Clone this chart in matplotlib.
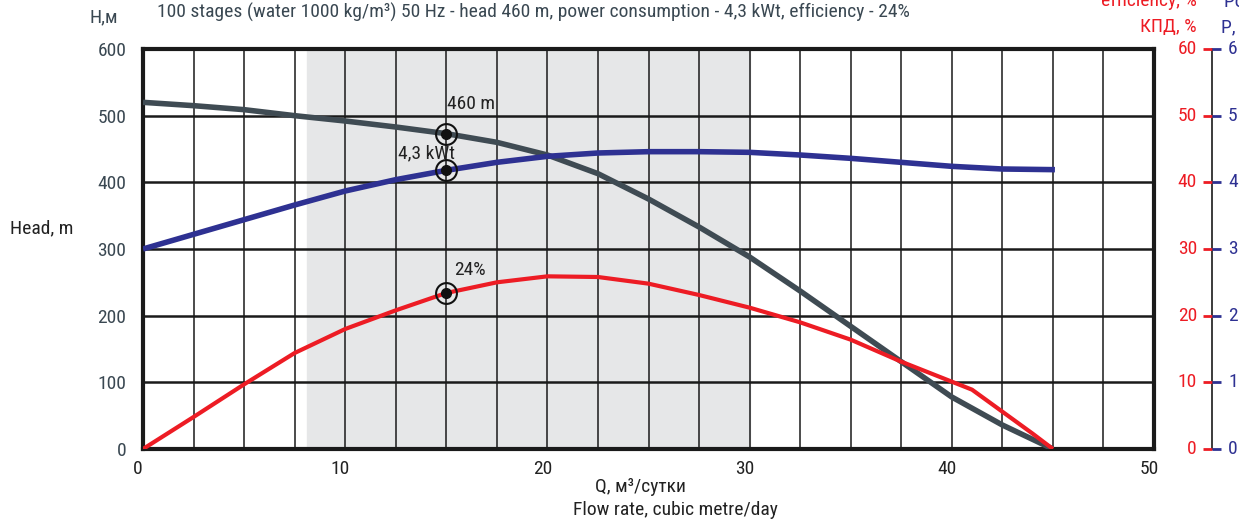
import matplotlib
matplotlib.use("Agg")
import matplotlib.pyplot as plt
from matplotlib import font_manager as fm
from matplotlib.transforms import ScaledTranslation

names = {f.name for f in fm.fontManager.ttflist}
fam = [n for n in ["Liberation Sans Narrow", "Roboto Condensed", "Roboto", "DejaVu Sans"] if n in names]
plt.rcParams['font.family'] = fam

# ---------------- data ----------------
flow = [0, 2.5, 5, 7.5, 10, 12.5, 15, 17.5, 20, 22.5, 25, 27.5, 30, 32.5, 35, 37.5, 40, 42.5, 45]
head = [520, 515, 509, 500, 492, 483, 473, 460, 441, 413, 375, 333, 288, 237, 184, 131, 78, 36, 0]

flow_p = [0, 2.5, 5, 7.5, 10, 12.5, 15, 17.5, 20, 22.5, 25, 27.5, 30, 32.5, 35, 37.5, 40, 42.5, 45.1]
power = [3.00, 3.22, 3.44, 3.66, 3.87, 4.04, 4.18, 4.30, 4.39, 4.44, 4.46, 4.46, 4.45, 4.41, 4.36, 4.30, 4.24, 4.20, 4.19]

flow_e = [0, 2.5, 5, 7.5, 10, 12.5, 15, 17.5, 20, 22.5, 25, 27.5, 30, 32.5, 35, 37.5, 40, 41, 42.5, 44, 45]
eff = [0, 4.8, 9.7, 14.4, 18.0, 20.8, 23.4, 25.0, 25.9, 25.8, 24.8, 23.1, 21.2, 19.0, 16.4, 13.1, 10.1, 8.9, 5.6, 2.3, 0]

work_range = (8.1, 30.0)
duty_flow = 15
x_ticks = [0, 10, 20, 30, 40, 50]
head_ticks = [0, 100, 200, 300, 400, 500, 600]
eff_ticks = [0, 10, 20, 30, 40, 50, 60]
power_ticks = [0, 1, 2, 3, 4, 5, 6]

title = "100 stages (water 1000 kg/m\u00b3) 50 Hz - head 460 m, power consumption - 4,3 kWt, efficiency - 24%"

C_HEAD = "#3f4b53"
C_POW = "#2e3192"
C_EFF = "#ed1c24"
C_TXT = "#3a4852"
FS = 14

W, H = 1239, 520
fig = plt.figure(figsize=(W / 100, H / 100), dpi=100)

def fx(px):
    return px / W

def fy(py):
    return 1 - py / H

ax = fig.add_axes([fx(143), fy(449), fx(1154) - fx(143), fy(49) - fy(449)])
ax.set_xlim(0, 50)
ax.set_ylim(0, 600)

ax.axvspan(*work_range, color="#e6e7e8", zorder=0)
for xv in [i * 2.5 for i in range(1, 20)]:
    ax.axvline(xv, color="#1a1a1a", lw=1.1, zorder=1)
for yv in head_ticks[1:-1]:
    ax.axhline(yv, color="#1a1a1a", lw=1.8, zorder=1)

for s in ax.spines.values():
    s.set_linewidth(3)
    s.set_color("#1a1a1a")

ax.plot(flow, head, color=C_HEAD, lw=4, zorder=3, solid_capstyle="butt")
ax.plot(flow_p, [p * 100 for p in power], color=C_POW, lw=4, zorder=3, solid_capstyle="butt")
ax.plot(flow_e, [e * 10 for e in eff], color=C_EFF, lw=3, zorder=3, solid_capstyle="butt")

# duty point markers
pts = [473, 418, 234]
for yv in pts:
    ax.plot([duty_flow], [yv], marker="o", ms=15, mfc="none", mec="#111111", mew=1.5, zorder=5)
    ax.plot([duty_flow], [yv], marker="o", ms=7, mfc="#111111", mec="#111111", zorder=6)

ax.text(15.05, 517, "460 m", fontsize=FS, color="#222222", ha="left", va="center", zorder=6)
ax.text(14.0, 444, "4,3 kWt", fontsize=FS, color="#222222", ha="center", va="center", zorder=6)
ax.text(15.4, 268, "24%", fontsize=FS, color="#222222", ha="left", va="center", zorder=6)

ax.set_xticks(x_ticks)
ax.set_xticklabels([str(v) for v in x_ticks], fontsize=FS, color="#222222")
ax.set_yticks(head_ticks)
ax.set_yticklabels([str(v) for v in head_ticks], fontsize=FS, color=C_TXT)
ax.tick_params(length=0, pad=12)
ax.tick_params(axis="x", pad=8)
shift = ScaledTranslation(-5 / 100, 0, fig.dpi_scale_trans)
for lab in ax.get_xticklabels():
    lab.set_transform(lab.get_transform() + shift)

fig.text(fx(640), fy(487), "Q, м\u00b3/сутки", fontsize=FS, color="#222222", ha="center", va="center")
fig.text(fx(675), fy(510), "Flow rate, cubic metre/day", fontsize=FS, color="#222222", ha="center", va="center")
fig.text(fx(10), fy(228), "Head, m", fontsize=FS, color="#222222", ha="left", va="center")
fig.text(fx(104), fy(17), "Н,м", fontsize=FS, color=C_TXT, ha="center", va="center")
fig.text(fx(157), fy(12), title, fontsize=FS, color=C_TXT, ha="left", va="center")

# right-side axis
axr = fig.add_axes([fx(1203), fy(449), fx(1221) - fx(1203), fy(49) - fy(449)])
axr.set_xlim(0, 1)
axr.set_ylim(0, 60)
axr.axis("off")
xm = (1212 - 1203) / (1221 - 1203)
axr.plot([xm, xm], [0, 60], color="#1a1a1a", lw=1.2, clip_on=False)
for e, p in zip(eff_ticks, power_ticks):
    axr.plot([0, xm], [e, e], color=C_EFF, lw=2, clip_on=False, solid_capstyle="butt")
    axr.plot([xm, 1], [e, e], color=C_POW, lw=2, clip_on=False, solid_capstyle="butt")
    fig.text(fx(1197), fy(449) + (fy(49) - fy(449)) * e / 60, str(e), fontsize=FS,
             color=C_EFF, ha="right", va="center")
    fig.text(fx(1228), fy(449) + (fy(49) - fy(449)) * p / 6, str(p), fontsize=FS,
             color=C_POW, ha="left", va="center")

fig.text(fx(1197), fy(27), "КПД, %", fontsize=FS, color=C_EFF, ha="right", va="center")
fig.text(fx(1197), fy(1), "efficiency, %", fontsize=FS, color=C_EFF, ha="right", va="center")
fig.text(fx(1221), fy(27), "P, кВт", fontsize=FS, color=C_POW, ha="left", va="center")
fig.text(fx(1224), fy(1), "Power, kW", fontsize=FS, color=C_POW, ha="left", va="center")

fig.savefig("out.png", dpi=100)
